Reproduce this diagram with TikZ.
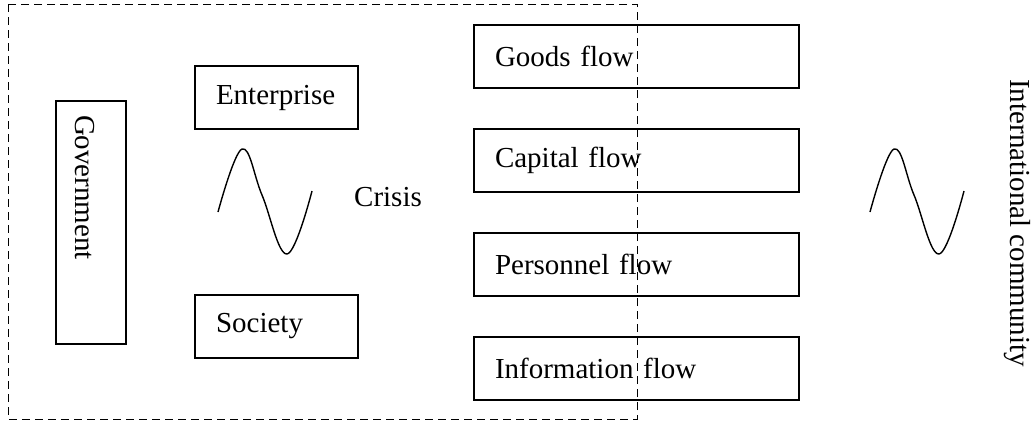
\documentclass[tikz,border=0pt]{standalone}
\usepackage{fontspec}
\setmainfont{Liberation Serif}
\usepackage{tikz}

\begin{document}
\begin{tikzpicture}[x=0.5pt, y=-0.5pt,
  actor/.style={draw, line width=0.8pt, minimum width=81.5pt, minimum height=31.5pt, text width=60.5pt, inner xsep=10.5pt, align=left, font=\fontsize{14.5}{17}\selectfont},
  flowbox/.style={actor, minimum width=162.5pt, text width=141.5pt},
  govbox/.style={actor, rotate=-90, minimum width=114.5pt, minimum height=35pt, text width=107.5pt, inner xsep=7pt, text height=16pt},
  lbl/.style={font=\fontsize{14.5}{17}\selectfont},
  wave/.style={line width=0.7pt},
  frame/.style={draw, dashed, line width=0.5pt, dash pattern=on 4pt off 2.5pt}]
\useasboundingbox (0,0) rectangle (1034,420);
\draw[frame] (8,4) rectangle (637,419);
\node[govbox] (gov) at (91,222.5) {Government};
\node[actor] (ent) at (276.5,97.5) {Enterprise};
\node[actor] (soc) at (276.5,326.5) {Society};
\node[lbl] (crisis) at (388,197) {Crisis};
\node[flowbox] (goods) at (636.5,56.5) {Goods flow};
\node[flowbox] (capital) at (636.5,160.5) {Capital flow};
\node[flowbox] (people) at (636.5,264.5) {Personnel flow};
\node[flowbox] (info) at (636.5,368.5) {Information flow};
\node[lbl, rotate=-90] (intl) at (1017,223) {International community};
% the two waves
\foreach \dx in {0,652}
  \draw[wave, xshift=\dx*0.5pt] plot[smooth, tension=0.65] coordinates {(218,212) (242,149) (262,195) (287,254) (312,191)};
\end{tikzpicture}
\end{document}
